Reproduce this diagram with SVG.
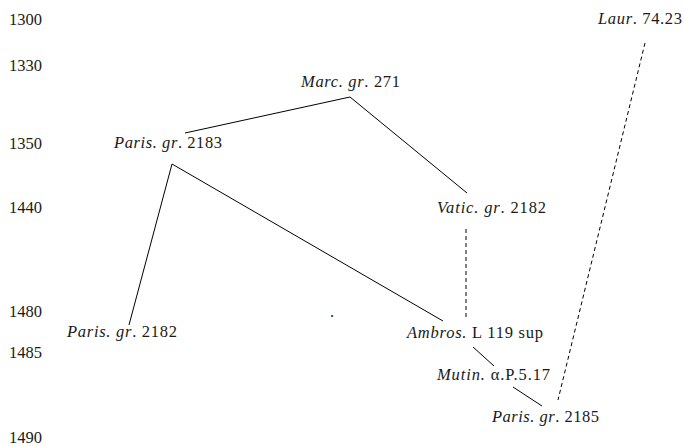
<svg xmlns="http://www.w3.org/2000/svg" width="684" height="446" viewBox="0 0 684 446">
<style>
text{font-family:"Liberation Serif","Times New Roman",serif;font-size:16.5px;fill:#1a1a1a}
.i{font-style:italic}
.s{stroke:#000;stroke-width:1;fill:none}
.d{stroke:#000;stroke-width:1;fill:none;stroke-dasharray:4 3}
</style>
<rect width="684" height="446" fill="#fff"/>
<g id="years">
<text x="9" y="25">1300</text>
<text x="9" y="71">1330</text>
<text x="9" y="149">1350</text>
<text x="9" y="213">1440</text>
<text x="9" y="317">1480</text>
<text x="9" y="358">1485</text>
<text x="9" y="443">1490</text>
</g>
<g id="connectors">
<polyline class="s" points="185,133 350,97 467,193"/>
<polyline class="s" points="129,325 172,164 443,321"/>
<line class="s" x1="473" y1="347" x2="494" y2="366"/>
<line class="s" x1="513" y1="387" x2="542" y2="406"/>
<line class="d" x1="466" y1="229" x2="466" y2="320"/>
<line class="d" x1="645" y1="43" x2="558" y2="400"/>
</g>
<g id="marc271"><text x="301" y="87" textLength="99" lengthAdjust="spacing"><tspan class="i">Marc. gr</tspan>. 271</text></g>
<g id="paris2183"><text x="114" y="148" textLength="108" lengthAdjust="spacing"><tspan class="i">Paris. gr</tspan>. 2183</text></g>
<g id="vatic2182"><text x="437" y="213" textLength="109" lengthAdjust="spacing"><tspan class="i">Vatic. gr</tspan>. 2182</text></g>
<g id="laur7423"><text x="598" y="24" textLength="84" lengthAdjust="spacing"><tspan class="i">Laur</tspan>. 74.23</text></g>
<g id="paris2182"><text x="67" y="337" textLength="110" lengthAdjust="spacing"><tspan class="i">Paris. gr</tspan>. 2182</text></g>
<g id="ambros"><text x="407" y="338" textLength="136" lengthAdjust="spacing"><tspan class="i">Ambros.</tspan> L 119 sup</text></g>
<g id="mutin"><text x="437" y="380" textLength="113" lengthAdjust="spacing"><tspan class="i">Mutin.</tspan> α.P.5.17</text></g>
<g id="paris2185"><text x="492" y="422" textLength="107" lengthAdjust="spacing"><tspan class="i">Paris. gr</tspan>. 2185</text></g>
<text x="330" y="317">.</text>
</svg>
